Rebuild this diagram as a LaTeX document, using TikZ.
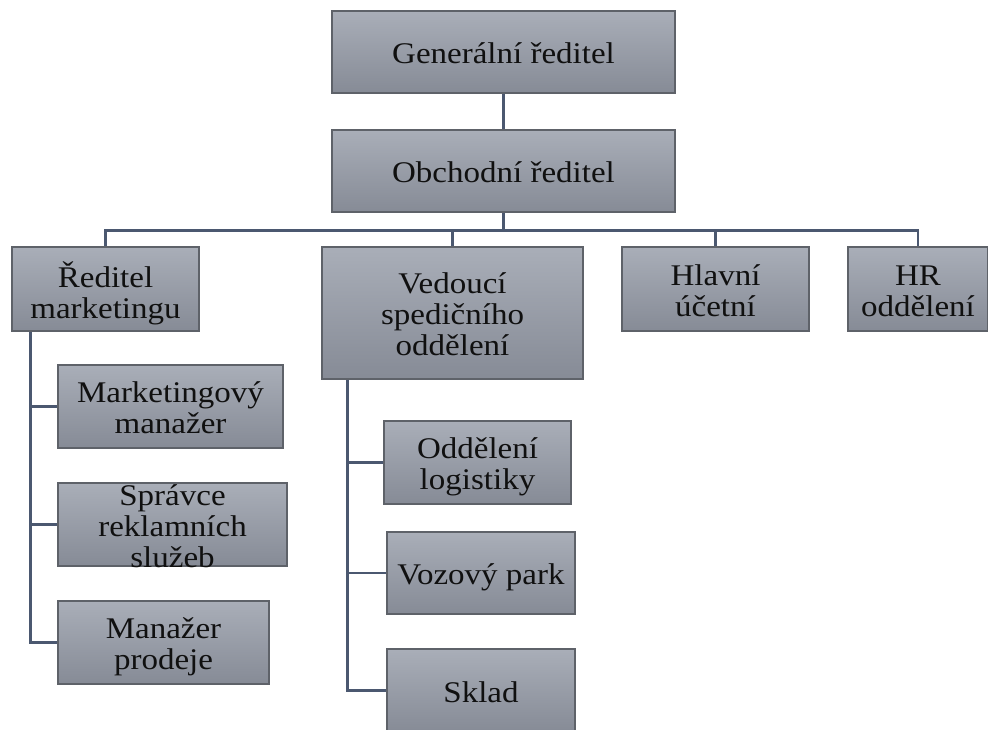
\documentclass[tikz,border=0pt]{standalone}
\usepackage{fontspec}
\setmainfont{Liberation Serif}[FakeStretch=1.1]
\definecolor{boxtop}{HTML}{A9AEB8}
\definecolor{boxbot}{HTML}{868B96}
\definecolor{boxline}{HTML}{5E6269}
\definecolor{conn}{HTML}{4B5870}
\definecolor{txt}{HTML}{101010}
\newcommand{\bt}[1]{\smash{\raisebox{-12pt}{\begin{tabular}{@{}c@{}}#1\end{tabular}}}}
\begin{document}
\begin{tikzpicture}[x=1pt,y=-1pt,
  orgbox/.style={draw=boxline, line width=1.2pt, top color=boxtop, bottom color=boxbot,
    inner sep=0pt, text=txt, font=\fontsize{30}{31}\selectfont},
  link/.style={draw=conn, line width=2.8pt}]
\useasboundingbox (0,0) rectangle (988,729);
\clip (0,0) rectangle (988,729);
\fill[white] (0,0) rectangle (988,729);

\node[orgbox, minimum width=343pt, minimum height=82pt] (gen) at (503.5,52) {\bt{Generální ředitel}};
\node[orgbox, minimum width=343pt, minimum height=82pt] (obch) at (503.5,171) {\bt{Obchodní ředitel}};
\node[orgbox, minimum width=187pt, minimum height=84pt] (redmkt) at (105.5,289) {\bt{Ředitel\\marketingu}};
\node[orgbox, minimum width=261pt, minimum height=132pt] (ved) at (452.5,313) {\bt{Vedoucí\\spedičního\\oddělení}};
\node[orgbox, minimum width=187pt, minimum height=84pt] (hlav) at (715.5,289) {\bt{Hlavní\\účetní}};
\node[orgbox, minimum width=140pt, minimum height=84pt] (hr) at (918,289) {\bt{HR\\oddělení}};

\node[orgbox, minimum width=225pt, minimum height=83pt] (mm) at (170.5,406.5) {\bt{Marketingový\\manažer}};
\node[orgbox, minimum width=229pt, minimum height=83pt] (spr) at (172.5,524.5) {\bt{Správce\\reklamních\\služeb}};
\node[orgbox, minimum width=211pt, minimum height=83pt] (mp) at (163.5,642.5) {\bt{Manažer\\prodeje}};

\node[orgbox, minimum width=187pt, minimum height=83pt] (log) at (477.5,462.5) {\bt{Oddělení\\logistiky}};
\node[orgbox, minimum width=188pt, minimum height=82pt] (voz) at (481,573) {\bt{Vozový park}};
\node[orgbox, minimum width=188pt, minimum height=83pt] (skl) at (481,690.5) {\bt{Sklad}};

% connectors
\draw[link] (gen.south) -- (obch.south |- obch.north);
\coordinate (bus) at ([yshift=-18pt]obch.south);
\draw[link] (obch.south) -- (bus);
\draw[link] (bus) -| (redmkt.north);
\draw[link] (bus) -| (ved.north);
\draw[link] (bus) -| (hlav.north);
\draw[link] (bus) -| (hr.north);

\coordinate (ls) at ([xshift=19pt]redmkt.south west);
\draw[link] (ls) |- (mp.west);
\draw[link] (ls |- mm.west) -- (mm.west);
\draw[link] (ls |- spr.west) -- (spr.west);

\coordinate (rs) at ([xshift=26pt]ved.south west);
\draw[link] (rs) |- (skl.west);
\draw[link] (rs |- log.west) -- (log.west);
\draw[link] (rs |- voz.west) -- (voz.west);
\end{tikzpicture}
\end{document}
